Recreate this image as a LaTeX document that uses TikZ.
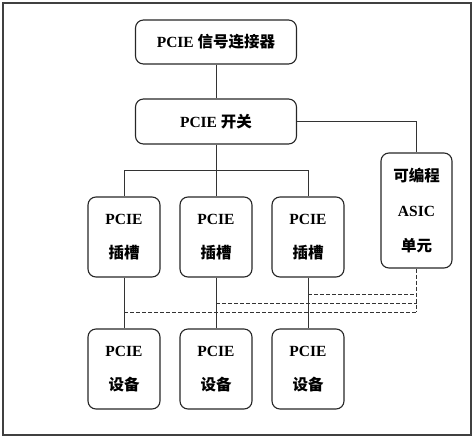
\documentclass[tikz,border=0pt]{standalone}
\usepackage{fontspec}
\setmainfont{Liberation Serif}
\newfontfamily\cjk{Noto Sans CJK SC}
\newcommand{\zh}[1]{{\cjk\bfseries #1}}
\begin{document}
\begin{tikzpicture}[x=1pt,y=-1pt,
  box/.style={draw=black!85,line width=1.1pt,rounded corners=8pt,align=center,
    font=\fontsize{15.5}{18}\selectfont\bfseries,inner sep=0pt},
  wide/.style={box,minimum width=161pt,minimum height=44pt},
  slot/.style={box,minimum width=72pt,minimum height=80pt},
  conn/.style={draw=black!80,line width=0.8pt},
  dconn/.style={conn,dash pattern=on 4pt off 2pt}]
\useasboundingbox (0,0) rectangle (474,437);
\draw[black!75,line width=2pt] (3,3) rectangle (471,435);
\node[wide] (con) at (216,42) {PCIE \zh{信号连接器}};
\node[wide,minimum height=45pt] (sw) at (216,121.5) {PCIE \zh{开关}};
\node[slot] (s1) at (124,237) {PCIE\\[16pt]\zh{插槽}};
\node[slot] (s2) at (216,237) {PCIE\\[16pt]\zh{插槽}};
\node[slot] (s3) at (308,237) {PCIE\\[16pt]\zh{插槽}};
\node[slot] (d1) at (124,369) {PCIE\\[16pt]\zh{设备}};
\node[slot] (d2) at (216,369) {PCIE\\[16pt]\zh{设备}};
\node[slot] (d3) at (308,369) {PCIE\\[16pt]\zh{设备}};
\node[box,minimum width=71pt,minimum height=115pt] (asic) at (416.5,210.5) {\zh{可编程}\\[17pt]ASIC\\[17pt]\zh{单元}};
\coordinate (bus) at (216,170);
\coordinate (b1) at (124,170);
\coordinate (b3) at (308,170);
\coordinate (e1) at (416.5,294);
\coordinate (e2) at (416.5,303);
\coordinate (e3) at (416.5,312);
\coordinate (f1) at (308,294);
\coordinate (f2) at (216,303);
\coordinate (f3) at (124,312);
\draw[conn] (con) -- (sw);
\draw[conn] (sw) -- (bus);
\draw[conn] (b1) -- (b3);
\draw[conn] (b1) -- (s1);
\draw[conn] (bus) -- (s2);
\draw[conn] (b3) -- (s3);
\draw[conn] (sw.east) -| (asic.north);
\draw[conn] (s1) -- (d1);
\draw[conn] (s2) -- (d2);
\draw[conn] (s3) -- (d3);
\draw[dconn] (asic.south) -- (e3);
\draw[dconn] (f1) -- (e1);
\draw[dconn] (f2) -- (e2);
\draw[dconn] (f3) -- (e3);
\end{tikzpicture}
\end{document}
